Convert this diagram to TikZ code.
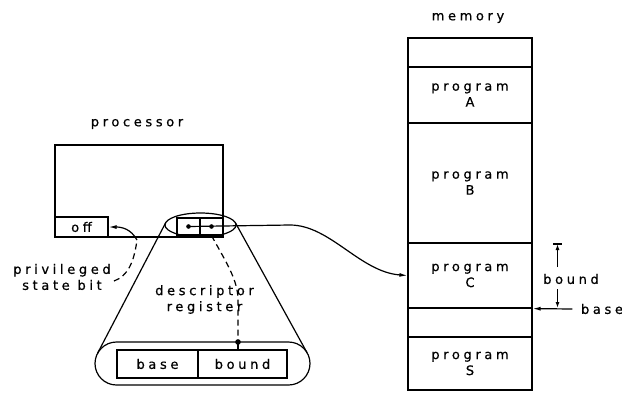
\documentclass[tikz,border=0pt]{standalone}
\usepackage{fontspec}
\newfontfamily\labfont[LetterSpace=28,FakeBold=0.6]{DejaVu Sans}
\usetikzlibrary{arrows.meta,shapes.geometric}
\begin{document}
\begin{tikzpicture}[x=1pt,y=-1pt, line width=1.2pt,
  lbl/.style={font=\labfont\fontsize{13}{16}\selectfont, align=center, inner sep=0pt},
  cell/.style={draw, minimum width=124pt, inner sep=0pt, lbl},
  box/.style={draw, inner sep=0pt},
  tip/.style={-{Latex[length=8pt,width=4pt]}},
  stip/.style={-{Latex[length=6pt,width=4pt]}},
  dsh/.style={dash pattern=on 6pt off 4pt}
]
\useasboundingbox (0,0) rectangle (622,392);

% memory
\node[lbl] (memlbl) at (468,18) {memory};
\node[cell, minimum height=29pt] (m0) at (470,52.5) {};
\node[cell, minimum height=56pt] (mA) at (470,95) {program\\A};
\node[cell, minimum height=120pt] (mB) at (470,183) {program\\B};
\node[cell, minimum height=65pt] (mC) at (470,275.5) {program\\C};
\node[cell, minimum height=29pt] (mG) at (470,322.5) {};
\node[cell, minimum height=53pt] (mS) at (470,363.5) {program\\S};

% processor
\node[lbl] (proclbl) at (137,124) {processor};
\node[box, minimum width=168pt, minimum height=92pt] (proc) at (139,191) {};
\node[box, lbl, minimum width=53pt, minimum height=20pt] (off) at (81.5,227) {off};

% small descriptor register
\node[box, minimum width=23pt, minimum height=17pt] (sb) at (188.5,226.5) {};
\node[box, minimum width=23pt, minimum height=17pt] (sd) at (211.5,226.5) {};
\fill (sb.center) circle (2.3pt);
\fill (sd.center) circle (2.3pt);
\node[draw, ellipse, inner sep=0pt, minimum width=71pt, minimum height=24pt] (se) at (200.5,225) {};

% enlarged descriptor register
\node[box, rounded corners=21.5pt, minimum width=215pt, minimum height=43pt] (cap) at (202.5,363.5) {};
\node[box, lbl, minimum width=81pt, minimum height=28pt] (rbase) at (157.5,364) {base};
\node[box, lbl, minimum width=89pt, minimum height=28pt] (rbound) at (242.5,364) {bound};

% cone
\coordinate (tl1) at (165.6,222.9);
\coordinate (tl2) at (97.5,353.4);
\coordinate (tr1) at (235.4,222.7);
\coordinate (tr2) at (307.1,352.8);
\draw (tl1) -- (tl2);
\draw (tr1) -- (tr2);

% labels
\node[lbl] (plbl) at (62,277) {privileged\\state bit};
\node[lbl] (dlbl) at (204.5,299.5) {descriptor\\register};

% privileged arrow
\coordinate (p1) at (114,281);
\coordinate (p2) at (137,240);
\draw[dsh] (p1) .. controls (128,276) and (134,262) .. (p2);
\draw[tip] (p2) .. controls (131,229) and (122,227) .. (off.east);

% descriptor dashed
\coordinate (ddot) at (238,342);
\draw[dsh] (sd.south) .. controls (226,262) and (238,280) .. (238,300) -- (ddot);
\fill (ddot) circle (2.8pt);
\draw (ddot) -- (rbound.north -| ddot);

% connector to memory
\draw[tip] (sb.center) -- (290,225) .. controls (330,225) and (360,272) .. (mC.west);

% bound / base
\node[lbl] (bndlbl) at (571,279) {bound};
\node[lbl] (baselbl) at (602,309) {base};
\coordinate (btop) at (557.5,244);
\coordinate (bbot) at (557.5,308);
\draw[stip] (557.5,267) -- (btop);
\draw (553,244) -- (562,244);
\draw[stip] (557.5,289) -- (bbot);
\draw[tip] (baselbl.west) ++(-8,0) -- (mC.south east);
\end{tikzpicture}
\end{document}
